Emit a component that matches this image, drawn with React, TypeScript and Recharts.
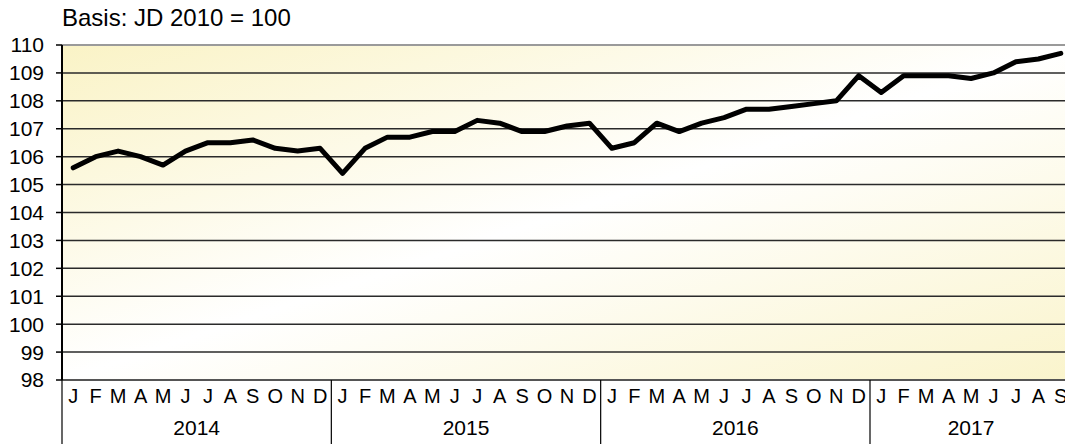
import React from 'react';
import { LineChart, Line, XAxis, YAxis, CartesianGrid, ReferenceLine } from 'recharts';

const MONTH_LABELS = ['J', 'F', 'M', 'A', 'M', 'J', 'J', 'A', 'S', 'O', 'N', 'D'];
const YEARS = [2014, 2015, 2016, 2017];
const VALUES_2014 = [105.6, 106.0, 106.2, 106.0, 105.7, 106.2, 106.5, 106.5, 106.6, 106.3, 106.2, 106.3];
const VALUES_2015 = [105.4, 106.3, 106.7, 106.7, 106.9, 106.9, 107.3, 107.2, 106.9, 106.9, 107.1, 107.2];
const VALUES_2016 = [106.3, 106.5, 107.2, 106.9, 107.2, 107.4, 107.7, 107.7, 107.8, 107.9, 108.0, 108.9];
const VALUES_2017 = [108.3, 108.9, 108.9, 108.9, 108.8, 109.0, 109.4, 109.5, 109.7];
const Y_TICKS = [98, 99, 100, 101, 102, 103, 104, 105, 106, 107, 108, 109, 110];
const TITLE = 'Basis: JD 2010 = 100';

const SERIES = [VALUES_2014, VALUES_2015, VALUES_2016, VALUES_2017];

type Row = { key: string; m: string; year: number; mi: number; v: number };
const data: Row[] = [];
SERIES.forEach((vals, yi) => {
  vals.forEach((v, mi) => {
    data.push({ key: `${YEARS[yi]}-${mi}`, m: MONTH_LABELS[mi], year: YEARS[yi], mi, v });
  });
});

const CHART_W = 1080;
const CHART_H = 444;
const MARGIN = { top: 45, right: 8, bottom: 0, left: 0 };
const Y_AXIS_W = 62;
const MONTH_AXIS_H = 30;
const YEAR_AXIS_H = CHART_H - MARGIN.top - 335 - MONTH_AXIS_H;
const PLOT_W = CHART_W - MARGIN.right - MARGIN.left - Y_AXIS_W;
const PLOT_BOTTOM = CHART_H - MONTH_AXIS_H - YEAR_AXIS_H;
const BW = PLOT_W / data.length;
const FONT = '"Liberation Sans", Arial, sans-serif';

const MonthTick = (props: any) => {
  const { x, index } = props;
  return (
    <text x={x} y={PLOT_BOTTOM + 23} textAnchor="middle" fontSize={20} fontFamily={FONT} fill="#000">
      {data[index]?.m}
    </text>
  );
};

const YearTick = (props: any) => {
  const { x, index } = props;
  const row = data[index];
  if (!row) return null;
  const count = data.filter((d) => d.year === row.year).length;
  const centerPos = (count - 1) / 2;
  const els: React.ReactNode[] = [];
  if (row.mi === 0) {
    els.push(
      <line key="sep" x1={x - BW / 2} x2={x - BW / 2} y1={PLOT_BOTTOM} y2={CHART_H} stroke="#000" strokeWidth={1.2} />
    );
  }
  if (row.mi === Math.floor(centerPos)) {
    els.push(
      <text key="yr" x={x + (centerPos - Math.floor(centerPos)) * BW} y={PLOT_BOTTOM + 55} textAnchor="middle" fontSize={21} fontFamily={FONT} fill="#000">
        {row.year}
      </text>
    );
  }
  return <g>{els}</g>;
};

export default function App() {
  return (
    <div style={{ position: 'absolute', left: 0, top: 0, width: 1065, height: 444, overflow: 'hidden', background: '#fff' }}>
      <LineChart width={CHART_W} height={CHART_H} data={data} margin={MARGIN}>
        <defs>
          <linearGradient id="plotBg" x1="0" y1="0" x2="1" y2="1">
            <stop offset="0%" stopColor="#FAF3C6" />
            <stop offset="50%" stopColor="#FFFFFF" />
            <stop offset="100%" stopColor="#FAF4CC" />
          </linearGradient>
        </defs>
        <CartesianGrid vertical={false} fill="url(#plotBg)" stroke="#2a2a2a" strokeWidth={1.5} />
        <XAxis
          xAxisId="m"
          dataKey="key"
          scale="band"
          interval={0}
          height={MONTH_AXIS_H}
          tickLine={false}
          axisLine={{ stroke: '#555', strokeWidth: 2 }}
          tick={(p: any) => <MonthTick {...p} />}
        />
        <XAxis
          xAxisId="y"
          dataKey="key"
          scale="band"
          interval={0}
          height={YEAR_AXIS_H}
          tickLine={false}
          axisLine={false}
          tick={(p: any) => <YearTick {...p} />}
        />
        <YAxis
          width={Y_AXIS_W}
          domain={[98, 110]}
          ticks={Y_TICKS}
          interval={0}
          tickSize={6}
          tickMargin={12}
          axisLine={{ stroke: '#000', strokeWidth: 2 }}
          tickLine={{ stroke: '#000', strokeWidth: 1.5 }}
          tick={{ fontSize: 21, fontFamily: FONT, fill: '#000' }}
        />
        <ReferenceLine xAxisId="m" y={110} stroke="#9a9a9a" strokeWidth={2} />
        <Line
          xAxisId="m"
          type="linear"
          dataKey="v"
          stroke="#000"
          strokeWidth={5}
          strokeLinejoin="round"
          strokeLinecap="round"
          dot={false}
          isAnimationActive={false}
        />
      </LineChart>
      <svg style={{ position: 'absolute', left: 0, top: 0 }} width={1065} height={40}>
        <text x={62} y={26} fontSize={24} fontFamily={FONT} fill="#000">
          {TITLE}
        </text>
      </svg>
    </div>
  );
}
